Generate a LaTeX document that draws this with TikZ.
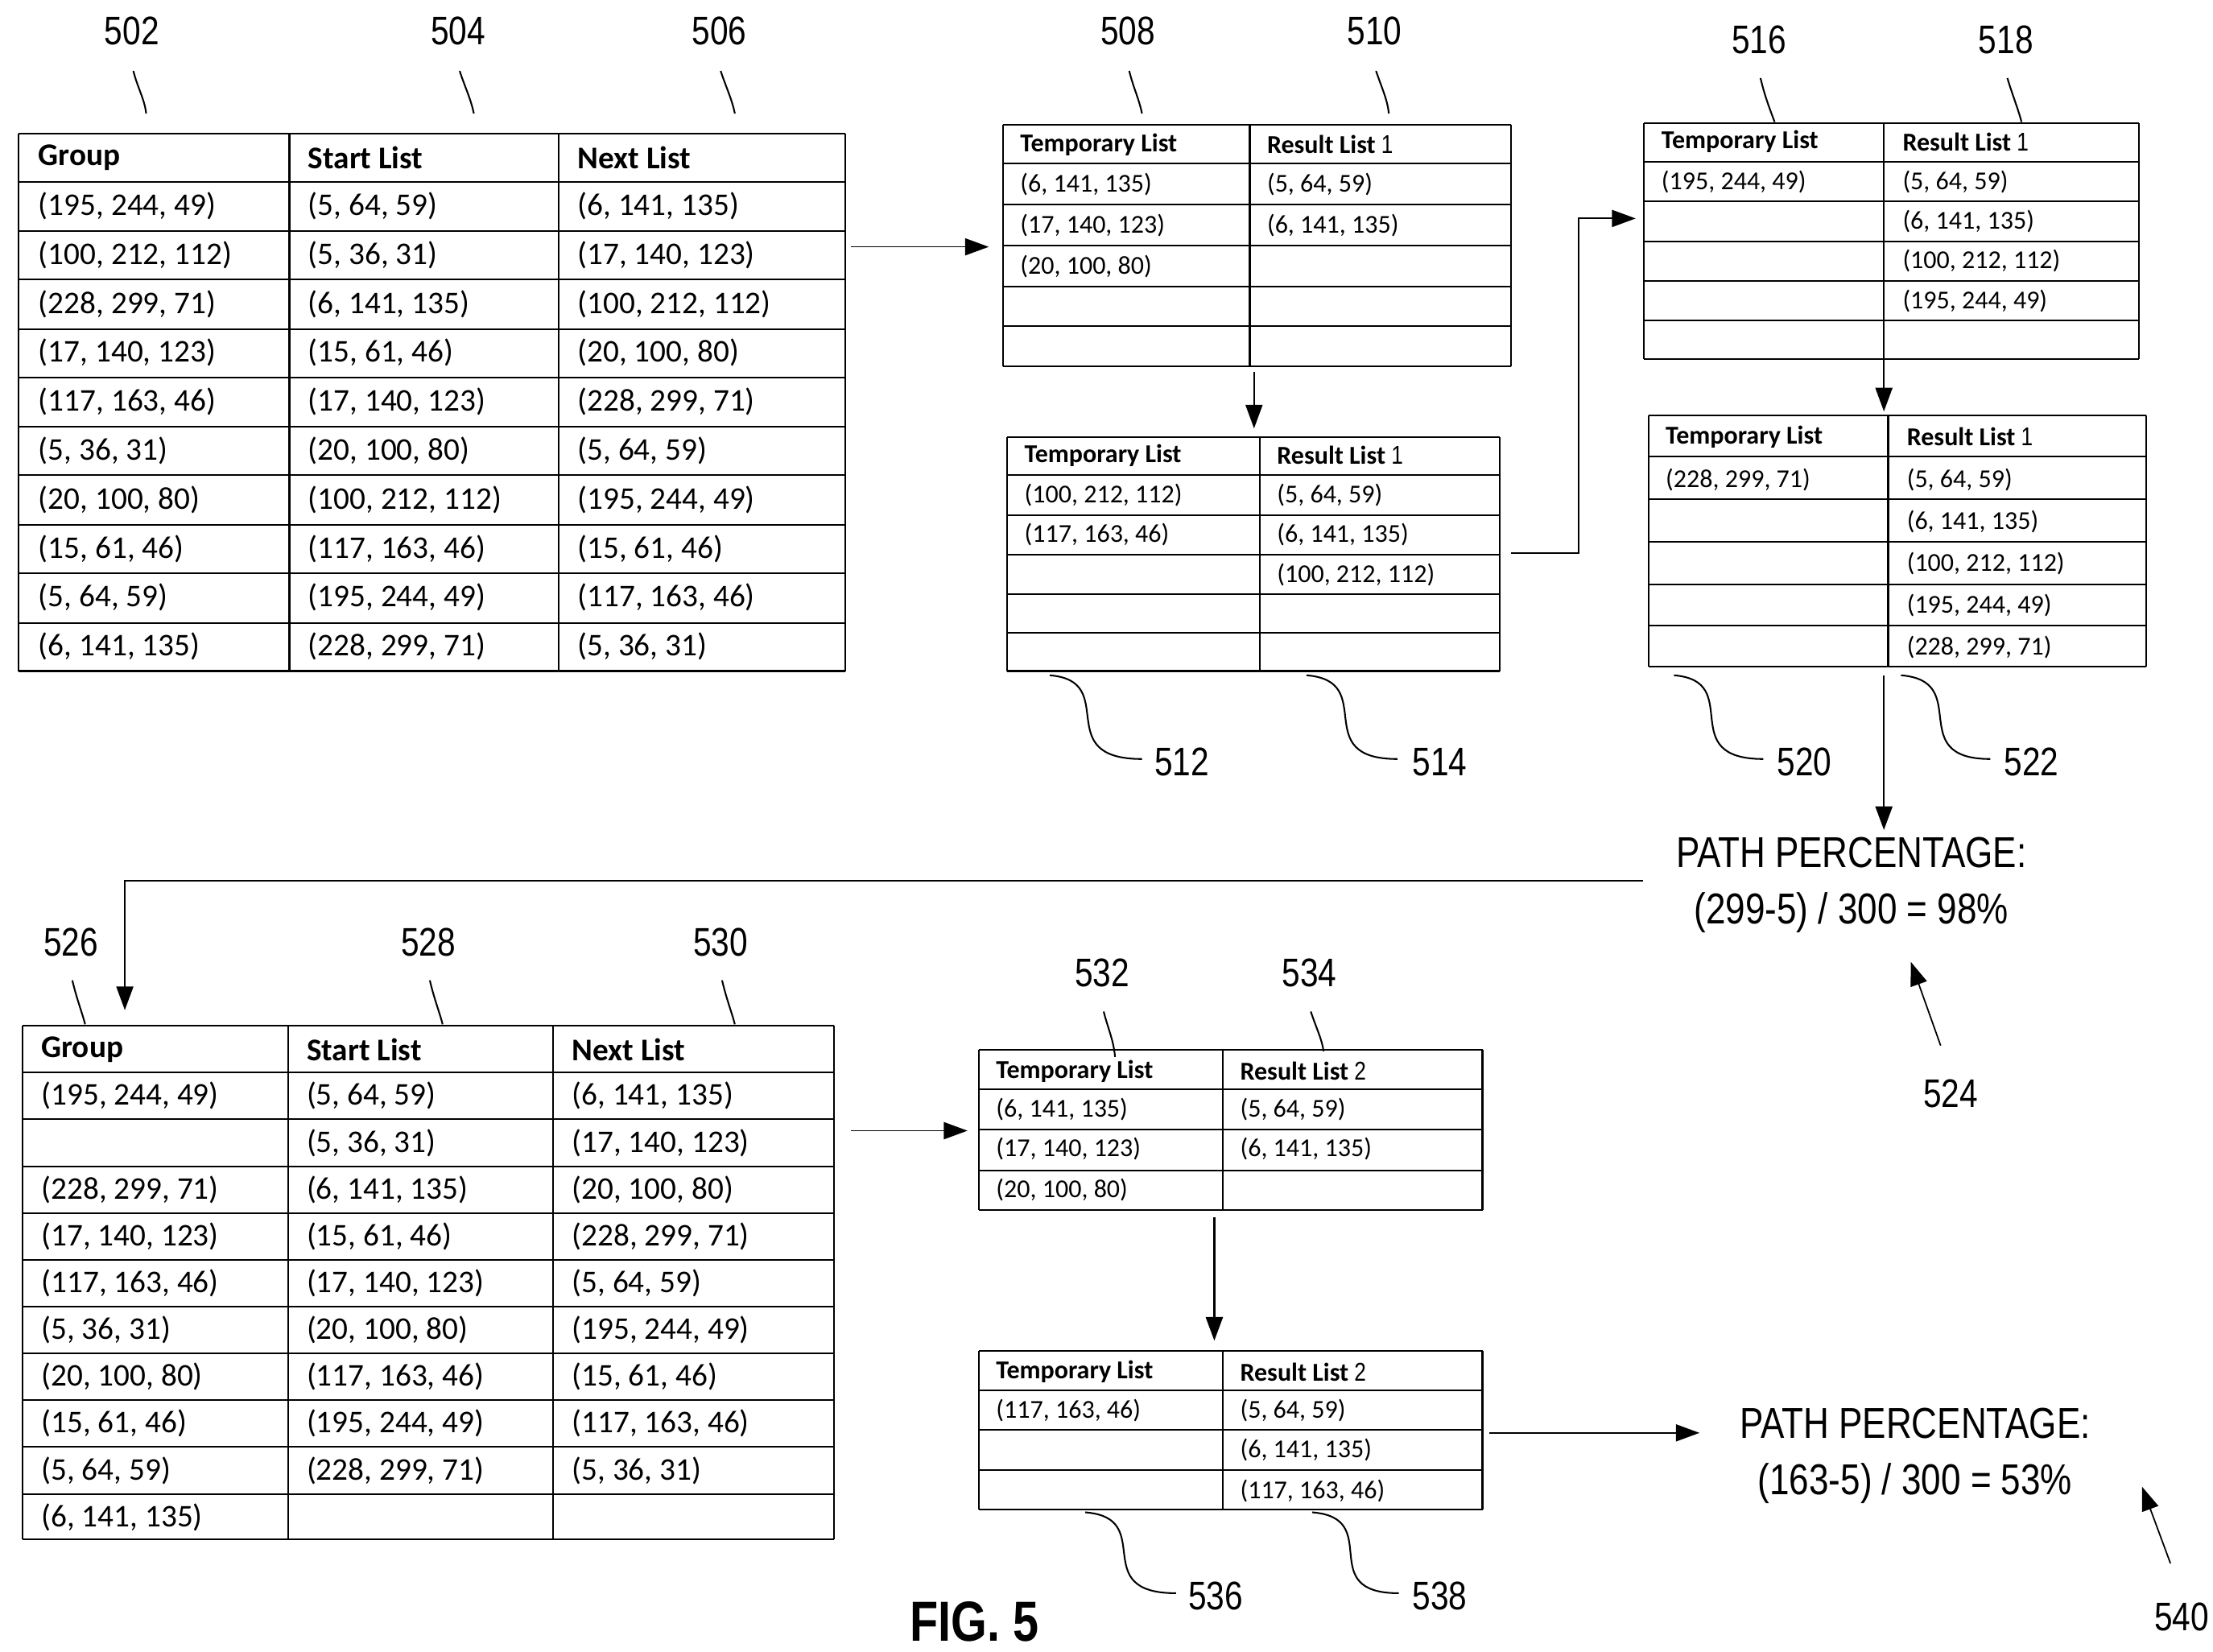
\documentclass[tikz,border=0pt]{standalone}
\usepackage{fontspec}
\setsansfont{Carlito}
\newfontfamily\numfont[FakeStretch=0.82]{Liberation Sans}
\usetikzlibrary{arrows.meta}
\tikzset{
  cell/.style={anchor=west,inner sep=0,font=\sffamily\fontsize{19}{19}\selectfont},
  scell/.style={anchor=west,inner sep=0,font=\sffamily\fontsize{15.5}{15.5}\selectfont},
  hd/.style={font=\sffamily\bfseries\fontsize{19}{19}\selectfont},
  shd/.style={font=\sffamily\bfseries\fontsize{15.5}{15.5}\selectfont},
  refno/.style={inner sep=0,font=\numfont\fontsize{24}{24}\selectfont},
  pct/.style={inner sep=0,align=center,font=\numfont\fontsize{26}{34}\selectfont},
  flow/.style={-{Triangle[length=5mm,width=3.6mm]},line width=0.4mm},
  lead/.style={line width=0.35mm}
}
% grid of a table: x list, first x, last x, y list, first y, last y
\newcommand\tabgrid[6]{%
  \foreach \yy in {#4} \draw[line width=0.35mm] (#2,\yy) -- (#3,\yy);
  \foreach \xx in {#1} \draw[line width=0.35mm] (\xx,#5) -- (\xx,#6);}
\newcommand\resone{\textmd{\numfont 1}}
\newcommand\restwo{\textmd{\numfont 2}}
\begin{document}
\begin{tikzpicture}[x=0.3mm,y=-0.3mm]
\useasboundingbox (0,0) rectangle (1560,1164);

% table 502-506
\tabgrid{13,204,394,596}{13}{596}{94,128,163,197,232,266,301,335,370,404,439,473}{94}{473}
\node[cell,hd] (g1h) at (27,111) {Group};
\node[cell,hd] (g2h) at (217,111) {Start List};
\node[cell,hd] (g3h) at (407,111) {Next List};
\foreach \a/\b/\c [count=\i] in {
  {(195, 244, 49)}/{(5, 64, 59)}/{(6, 141, 135)},
  {(100, 212, 112)}/{(5, 36, 31)}/{(17, 140, 123)},
  {(228, 299, 71)}/{(6, 141, 135)}/{(100, 212, 112)},
  {(17, 140, 123)}/{(15, 61, 46)}/{(20, 100, 80)},
  {(117, 163, 46)}/{(17, 140, 123)}/{(228, 299, 71)},
  {(5, 36, 31)}/{(20, 100, 80)}/{(5, 64, 59)},
  {(20, 100, 80)}/{(100, 212, 112)}/{(195, 244, 49)},
  {(15, 61, 46)}/{(117, 163, 46)}/{(15, 61, 46)},
  {(5, 64, 59)}/{(195, 244, 49)}/{(117, 163, 46)},
  {(6, 141, 135)}/{(228, 299, 71)}/{(5, 36, 31)}}{
  \node[cell] (ga\i) at (27,110.75+34.5*\i) {\a};
  \node[cell] (gb\i) at (217,110.75+34.5*\i) {\b};
  \node[cell] (gc\i) at (407,110.75+34.5*\i) {\c};
}

% table 508/510
\tabgrid{707,881,1065}{707}{1065}{88,115,144,173,202,230,258}{88}{258}
\node[scell,shd] (ta1) at (719,102) {Temporary List};
\node[scell,shd] (tb1) at (893,102) {Result List \resone};
\node[scell] at (719,130) {(6, 141, 135)};
\node[scell] at (719,159) {(17, 140, 123)};
\node[scell] at (719,188) {(20, 100, 80)};
\node[scell] at (893,130) {(5, 64, 59)};
\node[scell] at (893,159) {(6, 141, 135)};

% table 512/514
\tabgrid{710,888,1057}{710}{1057}{308,335,363,391,419,446,473}{308}{473}
\node[scell,shd] (ta2) at (722,321) {Temporary List};
\node[scell,shd] (tb2) at (900,321) {Result List \resone};
\node[scell] at (722,349) {(100, 212, 112)};
\node[scell] at (722,377) {(117, 163, 46)};
\node[scell] at (900,349) {(5, 64, 59)};
\node[scell] at (900,377) {(6, 141, 135)};
\node[scell] at (900,405) {(100, 212, 112)};

% table 516/518
\tabgrid{1159,1328,1508}{1159}{1508}{87,114,142,170,198,226,253}{87}{253}
\node[scell,shd] (ta3) at (1171,100) {Temporary List};
\node[scell,shd] (tb3) at (1341,100) {Result List \resone};
\node[scell] at (1171,128) {(195, 244, 49)};
\node[scell] at (1341,128) {(5, 64, 59)};
\node[scell] at (1341,156) {(6, 141, 135)};
\node[scell] at (1341,184) {(100, 212, 112)};
\node[scell] at (1341,212) {(195, 244, 49)};

% table 520/522
\tabgrid{1162,1331,1513}{1162}{1513}{293,322,352,382,412,441,470}{293}{470}
\node[scell,shd] (ta4) at (1174,308) {Temporary List};
\node[scell,shd] (tb4) at (1344,308) {Result List \resone};
\node[scell] at (1174,338) {(228, 299, 71)};
\node[scell] at (1344,338) {(5, 64, 59)};
\node[scell] at (1344,368) {(6, 141, 135)};
\node[scell] at (1344,397) {(100, 212, 112)};
\node[scell] at (1344,427) {(195, 244, 49)};
\node[scell] at (1344,456) {(228, 299, 71)};

% table 526-530
\tabgrid{16,203,390,588}{16}{588}{723,756,789,822,855,888,921,954,987,1020,1053,1085}{723}{1085}
\node[cell,hd] (h1h) at (29,740) {Group};
\node[cell,hd] (h2h) at (216,740) {Start List};
\node[cell,hd] (h3h) at (403,740) {Next List};
\foreach \a/\b/\c [count=\i] in {
  {(195, 244, 49)}/{(5, 64, 59)}/{(6, 141, 135)},
  {}/{(5, 36, 31)}/{(17, 140, 123)},
  {(228, 299, 71)}/{(6, 141, 135)}/{(20, 100, 80)},
  {(17, 140, 123)}/{(15, 61, 46)}/{(228, 299, 71)},
  {(117, 163, 46)}/{(17, 140, 123)}/{(5, 64, 59)},
  {(5, 36, 31)}/{(20, 100, 80)}/{(195, 244, 49)},
  {(20, 100, 80)}/{(117, 163, 46)}/{(15, 61, 46)},
  {(15, 61, 46)}/{(195, 244, 49)}/{(117, 163, 46)},
  {(5, 64, 59)}/{(228, 299, 71)}/{(5, 36, 31)},
  {(6, 141, 135)}/{}/{}}{
  \node[cell] (ha\i) at (29,739.5+33*\i) {\a};
  \node[cell] (hb\i) at (216,739.5+33*\i) {\b};
  \node[cell] (hc\i) at (403,739.5+33*\i) {\c};
}

% table 532/534
\tabgrid{690,862,1045}{690}{1045}{740,768,796,825,853}{740}{853}
\node[scell,shd] (ta5) at (702,755) {Temporary List};
\node[scell,shd] (tb5) at (874,755) {Result List \restwo};
\node[scell] at (702,782) {(6, 141, 135)};
\node[scell] at (702,810) {(17, 140, 123)};
\node[scell] at (702,839) {(20, 100, 80)};
\node[scell] at (874,782) {(5, 64, 59)};
\node[scell] at (874,810) {(6, 141, 135)};

% table 536/538
\tabgrid{690,862,1045}{690}{1045}{952,980,1008,1036,1064}{952}{1064}
\node[scell,shd] (ta6) at (702,967) {Temporary List};
\node[scell,shd] (tb6) at (874,967) {Result List \restwo};
\node[scell] at (702,994) {(117, 163, 46)};
\node[scell] at (874,994) {(5, 64, 59)};
\node[scell] at (874,1022) {(6, 141, 135)};
\node[scell] at (874,1051) {(117, 163, 46)};

% path percentages
\node[pct] (pp1) at (1305,624) {PATH PERCENTAGE:\\(299-5) / 300 = 98\%};
\node[pct] (pp2) at (1350,1026) {PATH PERCENTAGE:\\(163-5) / 300 = 53\%};

% flow arrows
\draw[flow,line width=0.25mm] (600,174) -- (697,174);
\draw[flow,line width=0.25mm] (884,262) -- (884,302);
\draw[flow,line width=0.3mm] (1065,390) -- (1113,390) -- (1113,154) -- (1153,154);
\draw[flow,line width=0.3mm] (1328,253) -- (1328,290);
\draw[flow] (1328,476) -- (1328,585);
\draw[flow,line width=0.3mm] (1158,621) -- (88,621) -- (88,712);
\draw[flow,line width=0.3mm] (600,797) -- (682,797);
\draw[flow] (856,858) -- (856,945);
\draw[flow,line width=0.3mm] (1050,1010) -- (1198,1010);
\draw[flow,line width=0.3mm] (1368,737) -- (1347,678);
\draw[flow,line width=0.3mm] (1530,1102) -- (1510,1048);

% reference numbers
\foreach \t/\x/\y in {502/93/22,504/323/22,506/507/22,508/795/22,510/969/22,
  516/1240/28,518/1414/28,526/50/664,528/302/664,530/508/664,532/777/686,534/923/686}{
  \node[refno] (r\t) at (\x,\y) {\t};
}
\foreach \t/\x/\y in {512/833/537,514/1015/537,520/1272/537,522/1432/537,
  524/1375/771,536/857/1125,538/1015/1125,540/1538/1140}{
  \node[refno] (r\t) at (\x,\y) {\t};
}
\node[inner sep=0,font=\numfont\bfseries\fontsize{34}{34}\selectfont] (fig) at (687,1143) {FIG. 5};

% leaders, top
\draw[lead] (94,50) .. controls (97,62) and (102,70) .. (103,80);
\draw[lead] (324,50) .. controls (328,62) and (332,70) .. (334,80);
\draw[lead] (508,50) .. controls (512,62) and (516,70) .. (518,80);
\draw[lead] (796,50) .. controls (799,62) and (803,70) .. (805,80);
\draw[lead] (970,50) .. controls (974,62) and (978,70) .. (979,80);
\draw[lead] (1241,55) .. controls (1244,68) and (1248,78) .. (1251,86);
\draw[lead] (1415,55) .. controls (1419,68) and (1423,78) .. (1425,86);
\draw[lead] (51,691) .. controls (54,704) and (58,714) .. (60,722);
\draw[lead] (303,691) .. controls (306,704) and (310,714) .. (312,722);
\draw[lead] (509,691) .. controls (512,704) and (516,714) .. (518,722);
\draw[lead] (778,713) .. controls (781,725) and (785,733) .. (786,745);
\draw[lead] (924,713) .. controls (928,725) and (932,733) .. (933,741);
% leaders, bottom
\draw[lead] (740,476) .. controls (790,480) and (740,535) .. (805,535);
\draw[lead] (921,476) .. controls (972,480) and (922,535) .. (985,535);
\draw[lead] (1180,476) .. controls (1230,480) and (1180,535) .. (1243,535);
\draw[lead] (1340,476) .. controls (1391,480) and (1342,535) .. (1403,535);
\draw[lead] (765,1066) .. controls (816,1070) and (766,1123) .. (829,1123);
\draw[lead] (925,1066) .. controls (976,1070) and (926,1123) .. (986,1123);
\end{tikzpicture}
\end{document}
